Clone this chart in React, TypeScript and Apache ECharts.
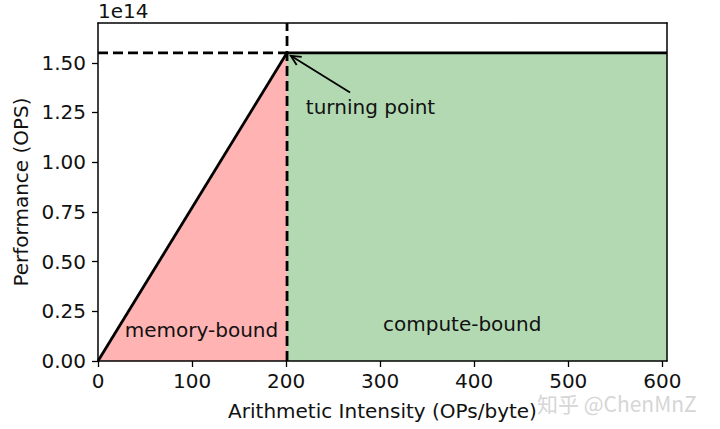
import React, { useEffect, useRef } from "react";
import * as echarts from "echarts";

// ---- data ----
const xTicks = [0, 100, 200, 300, 400, 500, 600];
const yTicks = [0, 0.25e14, 0.5e14, 0.75e14, 1.0e14, 1.25e14, 1.5e14];
const xMax = 605;
const yMax = 1.7e14;
const ridgeX = 201;
const peakPerf = 1.55e14;
const memoryRoof = [
  [0, 0],
  [ridgeX, peakPerf],
];
const computeRoof = [
  [ridgeX, peakPerf],
  [xMax, peakPerf],
];
const peakDash = [
  [0, peakPerf],
  [ridgeX, peakPerf],
];
const ridgeDash = [
  [ridgeX, 0],
  [ridgeX, yMax],
];
const arrowData = [[268, 1.35e14, 205, 1.535e14]];
const labelTexts = ["turning point", "memory-bound", "compute-bound"];
const labelPos = [
  [221, 1.28e14],
  [28.5, 0.158e14],
  [303, 0.188e14],
];

const FONT = "DejaVu Sans";
const FS = 20;

export default function App() {
  const ref = useRef<HTMLDivElement>(null);
  useEffect(() => {
    document.body.style.margin = "0";
    const chart = echarts.init(ref.current!, null, { renderer: "svg" });
    const axisCommon = {
      axisLine: { show: true, onZero: false, lineStyle: { color: "#000", width: 1.5 } },
      axisTick: { show: true, inside: false, length: 6, lineStyle: { color: "#000", width: 1.3 } },
      splitLine: { show: false },
    };
    const frameAxis = {
      type: "value",
      axisLine: { show: true, onZero: false, lineStyle: { color: "#000", width: 1.5 } },
      axisTick: { show: false },
      axisLabel: { show: false },
      splitLine: { show: false },
      z: 10,
    };
    chart.setOption({
      animation: false,
      backgroundColor: "#fff",
      grid: { left: 98, right: 53, top: 23, bottom: 68, containLabel: false },
      xAxis: [
        {
          type: "value",
          min: 0,
          max: xMax,
          ...axisCommon,
          z: 10,
          axisTick: { ...axisCommon.axisTick, customValues: xTicks },
          axisLabel: {
            customValues: xTicks,
            color: "#111",
            fontFamily: FONT,
            fontSize: FS,
            margin: 10,
          },
          name: "Arithmetic Intensity (OPs/byte)",
          nameLocation: "middle",
          nameGap: 40,
          nameTextStyle: { color: "#111", fontFamily: FONT, fontSize: FS },
        },
        { ...frameAxis, position: "top", min: 0, max: xMax },
      ],
      yAxis: [
        {
          type: "value",
          min: 0,
          max: yMax,
          ...axisCommon,
          z: 10,
          axisTick: { ...axisCommon.axisTick, customValues: yTicks },
          axisLabel: {
            customValues: yTicks,
            color: "#111",
            fontFamily: FONT,
            fontSize: FS,
            margin: 12,
            formatter: (v: number) => (v / 1e14).toFixed(2),
          },
          name: "Performance (OPS)",
          nameLocation: "middle",
          nameGap: 66,
          nameTextStyle: { color: "#111", fontFamily: FONT, fontSize: FS },
        },
        { ...frameAxis, position: "right", min: 0, max: yMax },
      ],
      graphic: [
        {
          type: "text",
          left: 98,
          top: 1,
          style: { text: "1e14", font: `${FS}px "${FONT}"`, fill: "#111" },
        },
        {
          type: "text",
          left: 537,
          top: 392,
          style: {
            text: "知乎 @ChenMnZ",
            font: `21px "Noto Sans CJK SC", "DejaVu Sans"`,
            fill: "#d6d6d6",
          },
        },
      ],
      series: [
        {
          type: "line",
          data: memoryRoof,
          symbol: "none",
          lineStyle: { color: "#000", width: 2.8 },
          areaStyle: { color: "#ffb3b3", opacity: 1 },
          z: 2,
        },
        {
          type: "line",
          data: computeRoof,
          symbol: "none",
          lineStyle: { color: "#000", width: 2.8 },
          areaStyle: { color: "#b3d9b3", opacity: 1 },
          z: 2,
        },
        {
          type: "line",
          data: peakDash,
          symbol: "none",
          lineStyle: { color: "#000", width: 2.8, type: [10, 5], cap: "butt" },
          z: 3,
        },
        {
          type: "line",
          data: ridgeDash,
          symbol: "none",
          lineStyle: { color: "#000", width: 2.8, type: [10, 5], cap: "butt" },
          z: 3,
        },
        {
          type: "custom",
          data: arrowData,
          encode: { x: [0, 2], y: [1, 3] },
          z: 4,
          renderItem: (params: any, api: any) => {
            const p1 = api.coord([api.value(0), api.value(1)]);
            const p2 = api.coord([api.value(2), api.value(3)]);
            const ang = Math.atan2(p2[1] - p1[1], p2[0] - p1[0]);
            const L = 11;
            const spread = 0.45;
            const h1 = [p2[0] - L * Math.cos(ang - spread), p2[1] - L * Math.sin(ang - spread)];
            const h2 = [p2[0] - L * Math.cos(ang + spread), p2[1] - L * Math.sin(ang + spread)];
            const st = { stroke: "#000", lineWidth: 1.8, fill: null };
            return {
              type: "group",
              children: [
                { type: "line", shape: { x1: p1[0], y1: p1[1], x2: p2[0], y2: p2[1] }, style: st },
                { type: "polyline", shape: { points: [h1, p2, h2] }, style: st },
              ],
            };
          },
        },
        {
          type: "custom",
          data: labelPos,
          encode: { x: 0, y: 1 },
          z: 4,
          renderItem: (params: any, api: any) => {
            const p = api.coord([api.value(0), api.value(1)]);
            return {
              type: "text",
              x: p[0],
              y: p[1],
              style: {
                text: labelTexts[params.dataIndex],
                font: `${FS}px "${FONT}"`,
                fill: "#111",
                verticalAlign: "middle",
                align: "left",
              },
            };
          },
        },
      ],
    });
    return () => chart.dispose();
  }, []);
  return <div ref={ref} style={{ width: 720, height: 429 }} />;
}
